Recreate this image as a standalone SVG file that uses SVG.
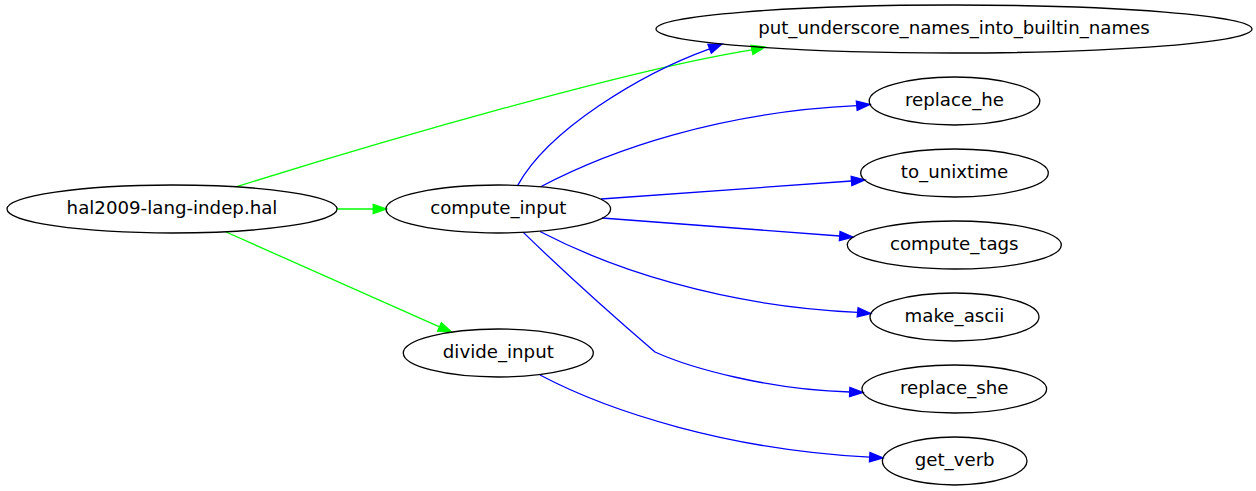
<svg xmlns="http://www.w3.org/2000/svg" width="1256" height="491" viewBox="0 0 1256 491">
<style>
.node ellipse{fill:none;stroke:#000;stroke-width:1.3}
.node text{font-family:"DejaVu Sans",sans-serif;font-size:18.2px;fill:#000;text-anchor:middle}
.g path{fill:none;stroke:#00ff00;stroke-width:1.3}
.g polygon{fill:#00ff00;stroke:#00ff00;stroke-width:1.3}
.b path{fill:none;stroke:#0000ff;stroke-width:1.3}
.b polygon{fill:#0000ff;stroke:#0000ff;stroke-width:1.3}
</style>
<rect width="1256" height="491" fill="#fff"/>
<g id="edges">
<g class="g" id="e_hal_compute"><path d="M337,209 L373.2,209"/><polygon points="373.2,204.33 386.5,209 373.2,213.67"/></g>
<g class="g" id="e_hal_put"><path d="M236,186.9 C386,140 631,69 752,49.8"/><polygon points="752.98,54.37 765,47 751.02,45.23"/></g>
<g class="g" id="e_hal_divide"><path d="M226,232 L439.5,326.9"/><polygon points="437.6,331.17 451.7,332.3 441.4,322.63"/></g>
<g class="b" id="e_ci_put"><path d="M517.7,185.4 C548,130 640,74 709.6,48.8"/><polygon points="711.28,53.16 722,44 707.92,44.44"/></g>
<g class="b" id="e_ci_he"><path d="M540.7,186.7 C610,150 720,112 856.75,105.7"/><polygon points="857.17,110.35 870,104.5 856.33,101.05"/></g>
<g class="b" id="e_ci_unix"><path d="M601,199 L851.5,181"/><polygon points="851.84,185.66 864.8,180 851.16,176.34"/></g>
<g class="b" id="e_ci_tags"><path d="M602,218 L839.7,236"/><polygon points="839.35,240.66 853,237 840.05,231.34"/></g>
<g class="b" id="e_ci_ascii"><path d="M540,231.5 C610,268 720,306 857.65,312.3"/><polygon points="857.23,316.95 870.9,313.5 858.07,307.65"/></g>
<g class="b" id="e_ci_she"><path d="M523.3,232.4 C560,268 620,322 655,352 C690,368 770,390 849.7,392"/><polygon points="849.52,396.67 863,392.5 849.88,387.33"/></g>
<g class="b" id="e_di_verb"><path d="M540,375 C610,412 730,450 869.7,457.2"/><polygon points="869.42,461.86 883,458 869.98,452.54"/></g>
</g>
<g id="n_hal" class="node"><ellipse cx="172" cy="209" rx="165" ry="24"/><text x="172" y="214.2">hal2009-lang-indep.hal</text></g>
<g id="n_compute_input" class="node"><ellipse cx="498.3" cy="209" rx="112.3" ry="24"/><text x="498.3" y="214.2">compute_input</text></g>
<g id="n_divide_input" class="node"><ellipse cx="498.3" cy="353" rx="95" ry="24"/><text x="498.3" y="358.2">divide_input</text></g>
<g id="n_put" class="node"><ellipse cx="954" cy="29" rx="298" ry="24"/><text x="954" y="34.2">put_underscore_names_into_builtin_names</text></g>
<g id="n_replace_he" class="node"><ellipse cx="954.5" cy="101" rx="85.3" ry="24"/><text x="954.5" y="106.2">replace_he</text></g>
<g id="n_to_unixtime" class="node"><ellipse cx="954.5" cy="173" rx="93.8" ry="24"/><text x="954.5" y="178.2">to_unixtime</text></g>
<g id="n_compute_tags" class="node"><ellipse cx="954.3" cy="245" rx="107" ry="24"/><text x="954.3" y="250.2">compute_tags</text></g>
<g id="n_make_ascii" class="node"><ellipse cx="954.5" cy="317" rx="84.5" ry="24"/><text x="954.5" y="322.2">make_ascii</text></g>
<g id="n_replace_she" class="node"><ellipse cx="954.3" cy="389" rx="92.3" ry="24"/><text x="954.3" y="394.2">replace_she</text></g>
<g id="n_get_verb" class="node"><ellipse cx="954.7" cy="461" rx="72.3" ry="24"/><text x="954.7" y="466.2">get_verb</text></g>
</svg>
